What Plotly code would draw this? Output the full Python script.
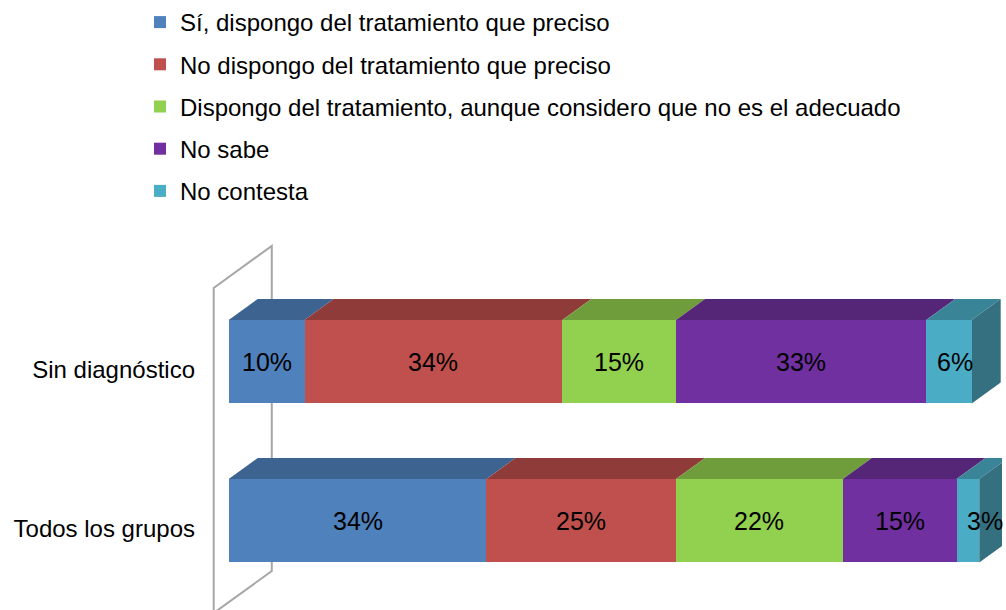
import plotly.graph_objects as go

# Survey groups (bottom to top on the chart)
categories = ["Todos los grupos", "Sin diagnóstico"]

series_names = [
    "Sí, dispongo del tratamiento que preciso",
    "No dispongo del tratamiento que preciso",
    "Dispongo del tratamiento, aunque considero que no es el adecuado",
    "No sabe",
    "No contesta",
]

# Percentages per series, ordered like `categories`
si_dispongo = [34, 10]
no_dispongo = [25, 34]
no_adecuado = [22, 15]
no_sabe = [15, 33]
no_contesta = [3, 6]

series_values = [si_dispongo, no_dispongo, no_adecuado, no_sabe, no_contesta]

# front / top / side shades for the pseudo-3D boxes
front_colors = ["#4F81BD", "#C0504D", "#92D050", "#7030A0", "#4BACC6"]
top_colors = ["#3D6391", "#8F3B39", "#6F9D3C", "#552577", "#3A8497"]
side_color = "#34707F"

FONT = "Arial, 'Liberation Sans', sans-serif"

# geometry of the boxes (axis units)
BAR_OFFSET = -0.21
BAR_WIDTH = 0.525
DEPTH_X = 3.83
DEPTH_Y = 0.132
X_RANGE = [-2.6, 102.0]
Y_RANGE = [-0.509, 1.943]

# page layout (pixels)
W, H = 1006, 610
M_L, M_R, M_T, M_B = 209, 4, 220, 0

# small horizontal nudges of some value labels (pixels)
label_xshift = {("No contesta", 0): 17, ("No contesta", 1): 6}

fig = go.Figure()

for name, vals, col in zip(series_names, series_values, front_colors):
    fig.add_trace(go.Bar(
        name=name,
        y=categories,
        x=vals,
        orientation="h",
        offset=BAR_OFFSET,
        width=BAR_WIDTH,
        marker=dict(color=col, line=dict(width=0)),
        legendgroup=name,
        hoverinfo="skip",
    ))

shapes = []

# left side wall of the 3D frame
wall_x0 = X_RANGE[0] + 0.62
wall_x1 = wall_x0 + 2 * DEPTH_X
wall_y_top = 1.516
wall_y_bot = -0.528
wall_path = (
    f"M {wall_x0},{wall_y_bot} L {wall_x0},{wall_y_top} "
    f"L {wall_x1},{wall_y_top + 2 * DEPTH_Y} L {wall_x1},{wall_y_bot + 2 * DEPTH_Y} Z"
)
shapes.append(dict(type="path", path=wall_path, xref="x", yref="y",
                   line=dict(color="#A6A6A6", width=2), fillcolor="rgba(0,0,0,0)",
                   layer="below"))

annotations = []
for ci, cat in enumerate(categories):
    y_bot = ci + BAR_OFFSET
    y_top = y_bot + BAR_WIDTH
    start = 0.0
    for si, (name, vals) in enumerate(zip(series_names, series_values)):
        v = vals[ci]
        end = start + v
        # top face
        path = (
            f"M {start},{y_top} L {end},{y_top} "
            f"L {end + DEPTH_X},{y_top + DEPTH_Y} L {start + DEPTH_X},{y_top + DEPTH_Y} Z"
        )
        shapes.append(dict(type="path", path=path, xref="x", yref="y",
                           fillcolor=top_colors[si], line=dict(width=0),
                           layer="below"))
        annotations.append(dict(
            x=start + v / 2, y=ci + BAR_OFFSET + BAR_WIDTH / 2,
            xref="x", yref="y", text=f"{v}%", showarrow=False,
            xshift=label_xshift.get((name, ci), 0),
            font=dict(family=FONT, size=25, color="#000000"),
        ))
        start = end
    # right side face of the last box
    side = (
        f"M {start},{y_bot} L {start},{y_top} "
        f"L {start + DEPTH_X},{y_top + DEPTH_Y} L {start + DEPTH_X},{y_bot + DEPTH_Y} Z"
    )
    shapes.append(dict(type="path", path=side, xref="x", yref="y",
                       fillcolor=side_color, line=dict(width=0), layer="below"))

plot_w = W - M_L - M_R
plot_h = H - M_T - M_B
legend_left_px = 140
legend_top_px = 0

fig.update_layout(
    width=W,
    height=H,
    barmode="stack",
    paper_bgcolor="white",
    plot_bgcolor="white",
    margin=dict(l=M_L, r=M_R, t=M_T, b=M_B, autoexpand=False),
    font=dict(family=FONT, size=24, color="#000000"),
    shapes=shapes,
    annotations=annotations,
    showlegend=True,
    legend=dict(
        x=(legend_left_px - M_L) / plot_w,
        y=(H - M_B - legend_top_px) / plot_h,
        xanchor="left", yanchor="top",
        traceorder="grouped", tracegroupgap=8,
        font=dict(family=FONT, size=24, color="#000000"),
        bgcolor="rgba(0,0,0,0)",
        itemclick=False, itemdoubleclick=False,
    ),
    xaxis=dict(range=X_RANGE, visible=False, fixedrange=True),
    yaxis=dict(
        range=Y_RANGE, type="category", showgrid=False, zeroline=False,
        showline=False, ticks="", ticklabelstandoff=13,
        tickfont=dict(family=FONT, size=24, color="#000000"),
        fixedrange=True,
    ),
)

fig.write_html("out.html")
